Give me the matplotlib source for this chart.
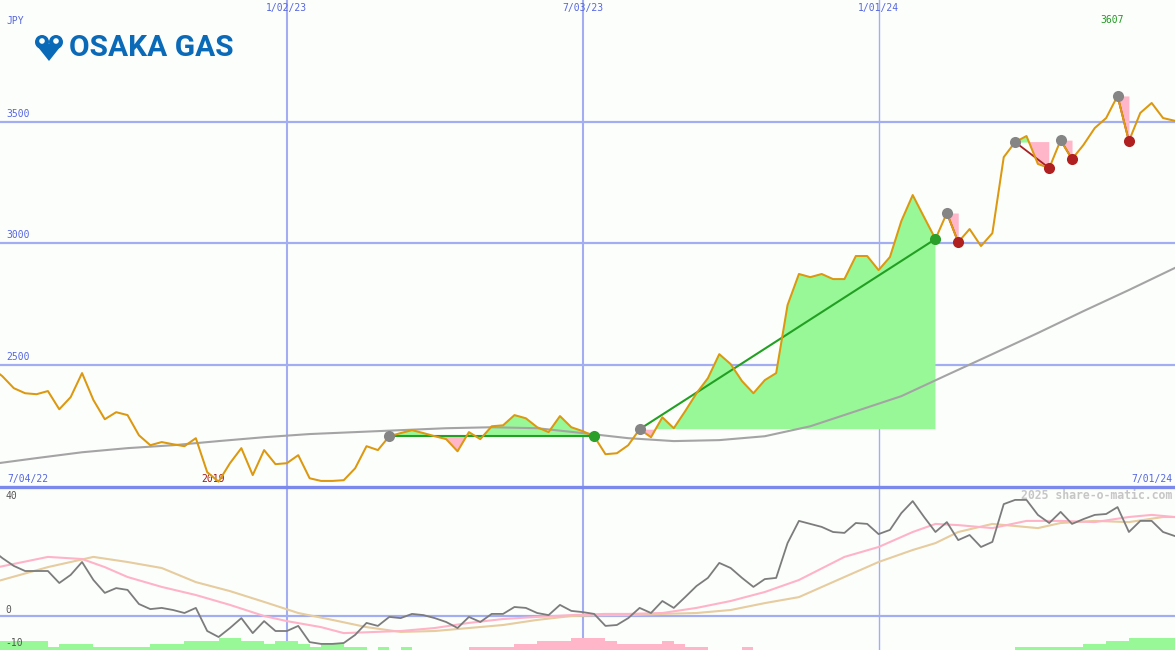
import numpy as np
import matplotlib
matplotlib.use("Agg")
import matplotlib.pyplot as plt
from matplotlib.transforms import blended_transform_factory as btf
from matplotlib.patches import Circle, Polygon

# ---------------- data (weekly, week 0 = 7/04/22, week 104 = 7/01/24) -------------
price = [2490, 2453, 2404, 2383, 2379, 2392, 2317, 2367, 2466, 2355,
         2276, 2305, 2293, 2210, 2169, 2182, 2173, 2165, 2198, 2058,
         2019, 2095, 2157, 2046, 2149, 2091, 2095, 2128, 2033, 2022,
         2022, 2025, 2074, 2165, 2149, 2206, 2219, 2231, 2219, 2206,
         2194, 2144, 2223, 2194, 2247, 2251, 2293, 2280, 2243, 2223,
         2289, 2243, 2227, 2206, 2132, 2136, 2169, 2235, 2202, 2284,
         2239, 2309, 2383, 2445, 2544, 2503, 2433, 2383, 2437, 2466,
         2746, 2874, 2861, 2874, 2853, 2853, 2948, 2948, 2890, 2944,
         3092, 3199, 3108, 3018, 3125, 3005, 3059, 2989, 3042, 3355,
         3417, 3442, 3327, 3310, 3425, 3347, 3405, 3475, 3516, 3607,
         3421, 3537, 3578, 3516, 3505]

ma_weeks = [0, 4, 8, 12, 16, 20, 24, 28, 32, 36, 40, 44, 48, 52, 56, 60, 64,
            68, 72, 76, 80, 84, 88, 92, 96, 100, 104]
ma_vals = [2091, 2116, 2140, 2157, 2169, 2186, 2202, 2215, 2223, 2231, 2239,
           2243, 2239, 2219, 2198, 2186, 2190, 2206, 2247, 2309, 2371, 2458,
           2544, 2631, 2721, 2808, 2898]

osc = [22.3, 19.3, 16.7, 15.0, 15.0, 15.0, 11.0, 13.7, 18.0, 12.0,
       7.7, 9.3, 8.7, 4.0, 2.3, 2.7, 2.0, 1.0, 2.7, -5.0,
       -7.0, -4.0, -0.7, -5.7, -1.7, -5.0, -5.0, -3.3, -8.7, -9.3,
       -9.3, -9.0, -6.3, -2.3, -3.3, -0.3, -0.7, 0.7, 0.3, -0.7,
       -2.0, -4.0, -0.3, -2.0, 0.7, 0.7, 3.0, 2.7, 1.0, 0.3,
       3.7, 1.7, 1.3, 0.7, -3.3, -3.0, -0.7, 2.7, 1.0, 5.0,
       2.7, 6.3, 10.0, 12.7, 17.7, 16.0, 12.7, 9.7, 12.3, 12.7,
       24.3, 31.7, 30.7, 29.7, 28.0, 27.7, 31.0, 30.7, 27.3, 28.7,
       34.3, 38.3, 33.0, 28.0, 31.3, 25.3, 27.0, 23.0, 24.7, 37.3,
       38.7, 38.7, 33.7, 31.0, 34.7, 30.7, 32.3, 33.7, 34.0, 36.3,
       28.0, 31.7, 31.7, 28.0, 26.7]

pink_weeks = [0, 5, 8, 10, 12, 15, 18, 21, 24, 26, 29, 31, 36, 39, 42, 45, 48,
              51, 54, 56, 59, 62, 65, 68, 71, 75, 78, 81, 83, 85, 88, 91, 94,
              97, 100, 102, 104]
pink_vals = [15.8, 19.7, 19.0, 16.3, 13.0, 9.7, 7.0, 3.7, 0.0, -1.7, -3.7,
             -5.7, -5.0, -4.0, -2.3, -1.0, -0.3, 0.3, 0.7, 0.7, 1.0, 2.7, 5.0,
             8.0, 12.0, 19.7, 23.0, 28.0, 30.7, 30.3, 29.3, 31.7, 31.7, 31.3,
             33.0, 33.7, 33.0]

tan_weeks = [0, 5, 9, 12, 15, 18, 21, 24, 27, 30, 33, 36, 39, 42, 45, 48, 51,
             54, 56, 59, 62, 65, 68, 71, 75, 78, 81, 83, 85, 88, 90, 92, 94,
             97, 100, 103, 104]
tan_vals = [11.0, 16.3, 19.7, 18.0, 16.0, 11.3, 8.3, 4.7, 1.0, -1.3, -3.7,
            -5.3, -5.0, -4.0, -3.0, -1.3, 0.0, 0.3, 0.3, 0.7, 1.0, 2.0, 4.3,
            6.3, 13.0, 18.0, 22.0, 24.3, 28.0, 30.7, 30.0, 29.3, 31.0, 31.7,
            31.3, 33.0, 33.0]

hist = [3, 3, 3, 3, 3, 1, 2, 2, 2, 1,
        1, 1, 1, 1, 2, 2, 2, 3, 3, 3,
        4, 4, 3, 3, 2, 3, 3, 2, 1, 2,
        2, 1, 1, 0, 1, 0, 1, 0, 0, 0,
        0, 0, -1, -1, -1, -1, -2, -2, -3, -3,
        -3, -4, -4, -4, -3, -2, -2, -2, -2, -3,
        -2, -1, -1, 0, 0, 0, -1, 0, 0, 0,
        0, 0, 0, 0, 0, 0, 0, 0, 0, 0,
        0, 0, 0, 0, 0, 0, 0, 0, 0, 0,
        1, 1, 1, 1, 1, 1, 2, 2, 3, 3,
        4, 4, 4, 4, 4]

# signals: start week, end week, buy?
sig_start = [35, 57, 84, 90, 94, 99]
sig_end = [53, 83, 85, 93, 95, 100]
sig_buy = [True, True, False, False, False, False]

grid_weeks = [26, 52, 78]
grid_labels = ["1/02/23", "7/03/23", "1/01/24"]
price_levels = [2500, 3000, 3500]
first_label, last_label = "7/04/22", "7/01/24"

# ---------------- style -------------
BG = "#fcfefc"
BLUE_GRID = "#a3adf2"
BLUE_DARK = "#7b88ec"
BLUE_TXT = "#5566e0"
ORANGE = "#dc980e"
GREEN_FILL = "#98f898"
PINK_FILL = "#ffb6c9"
MONO = "DejaVu Sans Mono"

W, H = 1175, 650
fig = plt.figure(figsize=(W / 100, H / 100), dpi=100, facecolor=BG)

split = 163 / H
axb = fig.add_axes([0, 0, 1, split], facecolor="none")
ax = fig.add_axes([0, split, 1, 1 - split], facecolor="none")

x_lo, x_hi = 0.79, 104.05
weeks = np.arange(len(price))
p = np.array(price, dtype=float)

# ---- top panel ----
ax.set_xlim(x_lo, x_hi)
ax.set_ylim(1997, 4002)
for lv in price_levels:
    ax.axhline(lv, color=BLUE_GRID, lw=1.6, zorder=0)
for gw, lwid in zip(grid_weeks, [1.5, 1.5, 1.0]):
    ax.axvline(gw, color=BLUE_GRID, lw=lwid, zorder=0)
    axb.axvline(gw, color=BLUE_GRID, lw=lwid, zorder=0)

for s, e, b in zip(sig_start, sig_end, sig_buy):
    xs = weeks[s:e + 1]
    ys = p[s:e + 1]
    base = p[s]
    ax.fill_between(xs, base, ys, where=ys >= base, interpolate=True,
                    color=GREEN_FILL, lw=0, zorder=1)
    ax.fill_between(xs, base, ys, where=ys <= base, interpolate=True,
                    color=PINK_FILL, lw=0, zorder=1)

ax.plot(ma_weeks, ma_vals, color="#a4a4a4", lw=1.5, zorder=2)

for s, e, b in zip(sig_start, sig_end, sig_buy):
    ax.plot([s, e], [p[s], p[e]], color="#22a022" if b else "#a82020",
            lw=1.5 if b else 1.3, zorder=3)

ax.plot(weeks, p, color=ORANGE, lw=1.45, zorder=4)

for s, e, b in zip(sig_start, sig_end, sig_buy):
    ax.plot(s, p[s], "o", color="#858585", ms=8, mew=0, zorder=5)
    ax.plot(e, p[e], "o", color="#2aa02a" if b else "#b02020", ms=8, mew=0,
            zorder=5)

for sp in ["top", "left", "right"]:
    ax.spines[sp].set_visible(False)
ax.spines["bottom"].set_color(BLUE_DARK)
ax.spines["bottom"].set_linewidth(2.4)
ax.spines["bottom"].set_zorder(6)
ax.set_xticks([])
ax.set_yticks([])

tr_xa = btf(ax.transAxes, ax.transData)
for lv in price_levels:
    ax.text(6 / W, lv + 12, str(lv), transform=tr_xa, fontsize=7,
            family=MONO, color=BLUE_TXT, va="bottom", ha="left")
tr_dx = btf(ax.transData, ax.transAxes)
for gw, gl in zip(grid_weeks, grid_labels):
    ax.text(gw, 1 - 3 / 487, gl, transform=tr_dx, fontsize=7, family=MONO,
            color=BLUE_TXT, ha="center", va="top")

imax = int(np.argmax(p))
imin = int(np.argmin(p))
ax.text(imax - 0.5, 1 - 15 / 487, f"{int(p[imax])}", transform=tr_dx,
        fontsize=7, family=MONO, color="#229922", ha="center", va="top")
ax.text(imin - 0.5, 3 / 487, f"{int(p[imin])}", transform=tr_dx, fontsize=7,
        family=MONO, color="#a01818", ha="center", va="bottom")
ax.text(7 / W, 3 / 487, first_label, transform=ax.transAxes, fontsize=7,
        family=MONO, color=BLUE_TXT, ha="left", va="bottom")
ax.text(1 - 3 / W, 3 / 487, last_label, transform=ax.transAxes, fontsize=7,
        family=MONO, color=BLUE_TXT, ha="right", va="bottom")
ax.text(6 / W, 1 - 16 / 487, "JPY", transform=ax.transAxes, fontsize=7,
        family=MONO, color=BLUE_TXT, ha="left", va="top")

# ---- bottom panel ----
b_lo, b_hi = -11.33, 43.0
axb.set_xlim(x_lo, x_hi)
axb.set_ylim(b_lo, b_hi)
axb.axhline(0, color=BLUE_GRID, lw=1.6, zorder=0)
h = np.array(hist, dtype=float)
axb.bar(weeks, np.abs(h), width=1.0, align="edge", bottom=b_lo,
        color=[GREEN_FILL if v > 0 else PINK_FILL for v in h], lw=0, zorder=1)
axb.plot(tan_weeks, tan_vals, color="#e6cc9e", lw=1.5, zorder=2)
axb.plot(pink_weeks, pink_vals, color="#ffb3c9", lw=1.5, zorder=2)
axb.plot(weeks, osc, color="#7c7c7c", lw=1.3, zorder=3)
for sp in axb.spines.values():
    sp.set_visible(False)
axb.set_xticks([])
axb.set_yticks([])
tr_b = btf(axb.transAxes, axb.transData)
axb.text(5 / W, 40, "40", transform=tr_b, fontsize=7, family=MONO,
         color="#555555", ha="left", va="center")
axb.text(5 / W, 2, "0", transform=tr_b, fontsize=7, family=MONO,
         color="#555555", ha="left", va="center")
axb.text(5 / W, -9.0, "-10", transform=tr_b, fontsize=7, family=MONO,
         color="#555555", ha="left", va="center")
axb.text(1 - 3 / W, 1 - 2 / 163, "2025 share-o-matic.com",
         transform=axb.transAxes, fontsize=8.3, family=MONO,
         weight="bold", color="#c6c6c6", ha="right", va="top")

# ---- logo ----
deco = fig.add_axes([0, 0, 1, 1], facecolor="none")
deco.set_xlim(0, W)
deco.set_ylim(H, 0)
deco.axis("off")
LOGO = "#0a6ab8"
deco.add_patch(Polygon([[35.5, 44], [62.5, 44], [49, 61]], closed=True,
                       color=LOGO, lw=0))
deco.add_patch(Circle((42, 42), 7, color=LOGO, lw=0))
deco.add_patch(Circle((56, 42), 7, color=LOGO, lw=0))
deco.add_patch(Circle((42, 41), 2.8, color=BG, lw=0))
deco.add_patch(Circle((56, 41), 2.8, color=BG, lw=0))
deco.text(69, 48.5, "OSAKA GAS", fontsize=21.5, family="Roboto",
          weight="bold", color=LOGO, ha="left", va="center")

fig.savefig("out.png", dpi=100, facecolor=BG)
